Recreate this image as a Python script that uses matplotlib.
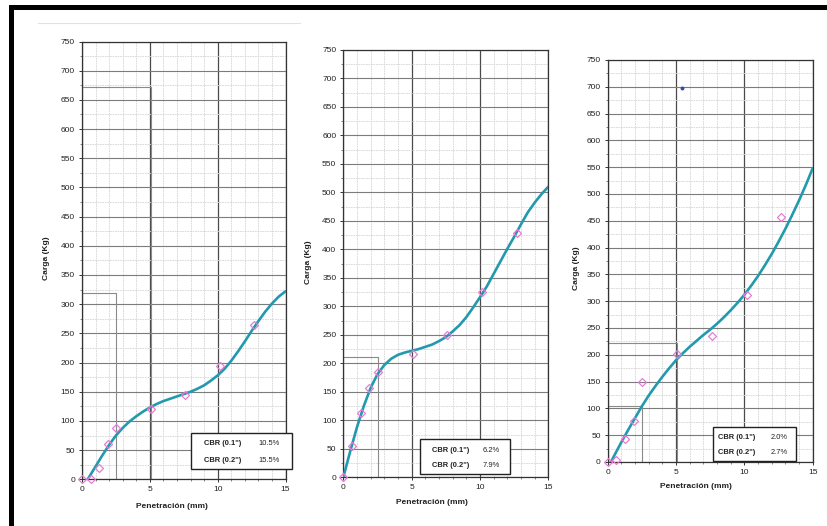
import numpy as np
import matplotlib
matplotlib.use("Agg")
import matplotlib.pyplot as plt
from matplotlib.patches import Rectangle
from matplotlib.lines import Line2D
from matplotlib.ticker import MultipleLocator

plt.rcParams['font.family'] = ['Liberation Sans', 'DejaVu Sans']

# ---------------- data ----------------
penetration = [0, 0.64, 1.27, 1.91, 2.54, 5.08, 7.62, 10.16, 12.70]   # mm
load_1 = [0, 0, 19, 61, 88, 120, 144, 194, 264]                      # Kg
load_2 = [0, 55, 112, 156, 185, 216, 249, 326, 429]
load_3 = [0, 3, 42, 77, 149, 202, 236, 312, 458]

# trend curves
curve_x_1 = [0.42, 1.0, 1.5, 2.0, 2.5, 3.0, 3.5, 4.0, 4.5, 5.0, 5.5, 6.0, 6.5, 7.0, 7.5,
             8.0, 8.5, 9.0, 9.5, 10.0, 10.5, 11.0, 11.5, 12.0, 12.5, 13.0, 13.5, 14.0,
             14.5, 15.0]
curve_y_1 = [0, 22, 41, 59, 75, 88, 99, 108, 116, 123, 129, 134, 138, 142, 146,
             150, 155, 161, 169, 178, 189, 203, 219, 236, 254, 271, 287, 301,
             313, 322]

curve_x_2 = [0, 0.5, 1.0, 1.5, 2.0, 2.5, 3.0, 3.5, 4.0, 4.5, 5.0, 5.5, 6.0, 6.5, 7.0,
             7.5, 8.0, 8.5, 9.0, 9.5, 10.0, 10.5, 11.0, 11.5, 12.0, 12.5, 13.0, 13.5,
             14.0, 14.5, 15.0]
curve_y_2 = [0, 45, 88, 125, 157, 181, 197, 208, 215, 219, 222, 225, 229, 233, 239,
             246, 256, 267, 281, 298, 316, 335, 357, 379, 401, 422, 444, 465,
             482, 497, 510]

curve_x_3 = [0.24, 0.5, 1.0, 1.5, 2.0, 2.5, 3.0, 3.5, 4.0, 4.5, 5.0, 5.5, 6.0, 6.5, 7.0,
             7.5, 8.0, 8.5, 9.0, 9.5, 10.0, 10.5, 11.0, 11.5, 12.0, 12.5, 13.0, 13.5,
             14.0, 14.5, 15.0]
curve_y_3 = [0, 13, 37, 60, 82, 104, 124, 142, 159, 175, 190, 203, 215, 226, 237,
             247, 258, 270, 283, 297, 312, 329, 347, 367, 388, 411, 435, 461,
             488, 517, 548]

cbr_names = ['CBR (0.1")', 'CBR (0.2")']
cbr_1 = ['10.5%', '15.5%']
cbr_2 = ['6.2%', '7.9%']
cbr_3 = ['2.0%', '2.7%']

ref_pen = [2.54, 5.08]
ref_1 = [320, 672]
ref_2 = [212, None]
ref_3 = [105, 222]

stray_x = [5.4]
stray_y = [697]

x_ticks = [0, 5, 10, 15]
y_ticks = list(range(0, 751, 50))

# ---------------- figure ----------------
W, H = 827, 526
fig = plt.figure(figsize=(W / 100, H / 100), dpi=100)
fig.patch.set_facecolor('white')

def fx(px):
    return px / W

def fy(py):
    return 1 - py / H

CURVE = '#2399ae'
PINK = '#e37dd3'

def panel(box_px, loads, cx, cy, cbr_vals, refs, legend_px, ylab_px, xlab_px, text_px):
    l, t, r, b = box_px
    ax = fig.add_axes([fx(l), fy(b), fx(r - l), (b - t) / H])
    ax.set_xlim(0, 15)
    ax.set_ylim(0, 750)
    ax.xaxis.set_minor_locator(MultipleLocator(1))
    ax.yaxis.set_minor_locator(MultipleLocator(25))
    ax.set_xticks(x_ticks)
    ax.set_yticks(y_ticks)
    ax.grid(which='minor', color='#d4d4d4', lw=0.6, ls=(0, (2, 1)))
    ax.grid(which='major', axis='y', color='#7c7c7c', lw=0.8)
    ax.grid(which='major', axis='x', color='#4a4a4a', lw=0.9)
    ax.set_axisbelow(True)
    for s in ax.spines.values():
        s.set_color('#333333')
        s.set_linewidth(0.9)
    ax.tick_params(which='major', length=2.5, width=0.7, colors='#333333',
                   labelsize=6, labelcolor='#222222', pad=2.5)
    ax.tick_params(which='minor', length=1.5, width=0.5, colors='#555555')

    for pen, val in zip(ref_pen, refs):
        if val is not None:
            ax.plot([0, pen, pen], [val, val, 0], color='#8a8a8a', lw=0.8, zorder=2)

    ax.plot(cx, cy, color=CURVE, lw=1.9, zorder=3, solid_joinstyle='round',
            solid_capstyle='round')

    ax.plot(penetration, loads, ls='none', marker='D', ms=4, mfc='none',
            mec=PINK, mew=0.9, zorder=4, clip_on=False)

    bl, bt, br, bb = legend_px
    fig.add_artist(Rectangle((fx(bl), fy(bb)), fx(br - bl), (bb - bt) / H,
                             transform=fig.transFigure, facecolor='white',
                             edgecolor='#222222', lw=1.0, zorder=5))
    nx, vx, y1, y2 = text_px
    for name, val, yy in zip(cbr_names, cbr_vals, [y1, y2]):
        fig.text(fx(nx), fy(yy), name, fontsize=5.4, fontweight='bold',
                 va='center', ha='left', color='#222222', zorder=6)
        fig.text(fx(vx), fy(yy), val, fontsize=5.4, va='center', ha='left',
                 color='#222222', zorder=6)

    fig.text(fx(ylab_px[0]), fy(ylab_px[1]), 'Carga (Kg)', rotation=90,
             fontsize=6, fontweight='bold', ha='center', va='center', color='#222222')
    fig.text(fx(xlab_px[0]), fy(xlab_px[1]), 'Penetración (mm)',
             fontsize=6, fontweight='bold', ha='center', va='center', color='#222222')
    return ax

ax1 = panel((82, 41.5, 285.5, 479.3), load_1, curve_x_1, curve_y_1, cbr_1, ref_1,
            (191, 433, 292, 468.5), (47, 258), (172, 506), (204, 258, 443.5, 460))
ax2 = panel((343.3, 50, 548.3, 477.3), load_2, curve_x_2, curve_y_2, cbr_2, ref_2,
            (420, 439, 510, 473.5), (308, 262), (432, 502.5), (432, 483, 450, 465.7))
ax3 = panel((607.7, 60, 812.7, 462), load_3, curve_x_3, curve_y_3, cbr_3, ref_3,
            (712.7, 427.3, 796, 460.7), (577, 268), (696, 486), (718.5, 771, 437.3, 452.7))

ax3.plot(stray_x, stray_y, ls='none', marker='o', ms=1.8, color='#3050a0', zorder=4)

# scan frame and faint paste edge
fig.add_artist(Rectangle((fx(9), fy(10)), 1 - fx(9), 5 / H, transform=fig.transFigure,
                         facecolor='black', edgecolor='none'))
fig.add_artist(Rectangle((fx(9), 0), fx(5), fy(5), transform=fig.transFigure,
                         facecolor='black', edgecolor='none'))
fig.add_artist(Line2D([fx(38), fx(300)], [fy(23), fy(23)], transform=fig.transFigure,
                      color='#e2e2e2', lw=0.8))

fig.savefig('out.png', dpi=100, facecolor='white')
